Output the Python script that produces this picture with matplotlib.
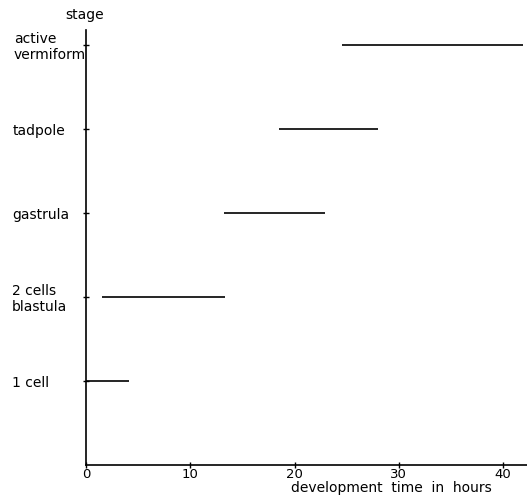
import matplotlib
matplotlib.use("Agg")
import matplotlib.pyplot as plt
from matplotlib.transforms import blended_transform_factory

stages = ["1 cell", "2 cells\nblastula", "gastrula", "tadpole", "active\nvermiform"]
start_h = [0.0, 1.5, 13.2, 18.5, 24.6]
end_h = [4.1, 13.3, 22.9, 28.0, 41.9]
xticks = [0, 10, 20, 30, 40]

plt.rcParams['font.family'] = ['DejaVu Sans']
fig = plt.figure(figsize=(5.27, 4.99), dpi=100)
ax = fig.add_axes([86/527, 1 - 465/499, 1 - 86/527, (465 - 30)/499])

ypos = list(range(1, len(stages) + 1))
ax.hlines(ypos, start_h, end_h, colors='black', linewidth=1.2)

ax.set_xlim(0, 42.3)
ax.set_ylim(0, 5.18)
for s in ['top', 'right']:
    ax.spines[s].set_visible(False)
for s in ['left', 'bottom']:
    ax.spines[s].set_linewidth(1.2)

ax.set_xticks(xticks)
ax.set_xticklabels([str(t) for t in xticks], fontsize=9.5)
ax.tick_params(axis='x', direction='inout', length=5, width=1, pad=0)
ax.set_yticks(ypos)
ax.set_yticklabels([])
ax.tick_params(axis='y', direction='inout', length=5, width=1)

trans = blended_transform_factory(fig.transFigure, ax.transData)
lx = {"1 cell": 12, "2 cells\nblastula": 12, "gastrula": 12, "tadpole": 13, "active\nvermiform": 14}
for y, s in zip(ypos, stages):
    ax.text(lx[s] / 527, y - 0.02, s, transform=trans,
            ha='left', va='center', fontsize=10, linespacing=1.15)

fig.text(85/527, 1 - 15/499, "stage", ha='center', va='center', fontsize=10)
fig.text(492/527, 1 - 488/499, "development  time  in  hours", ha='right', va='center', fontsize=10)

fig.savefig("out.png", dpi=100)
